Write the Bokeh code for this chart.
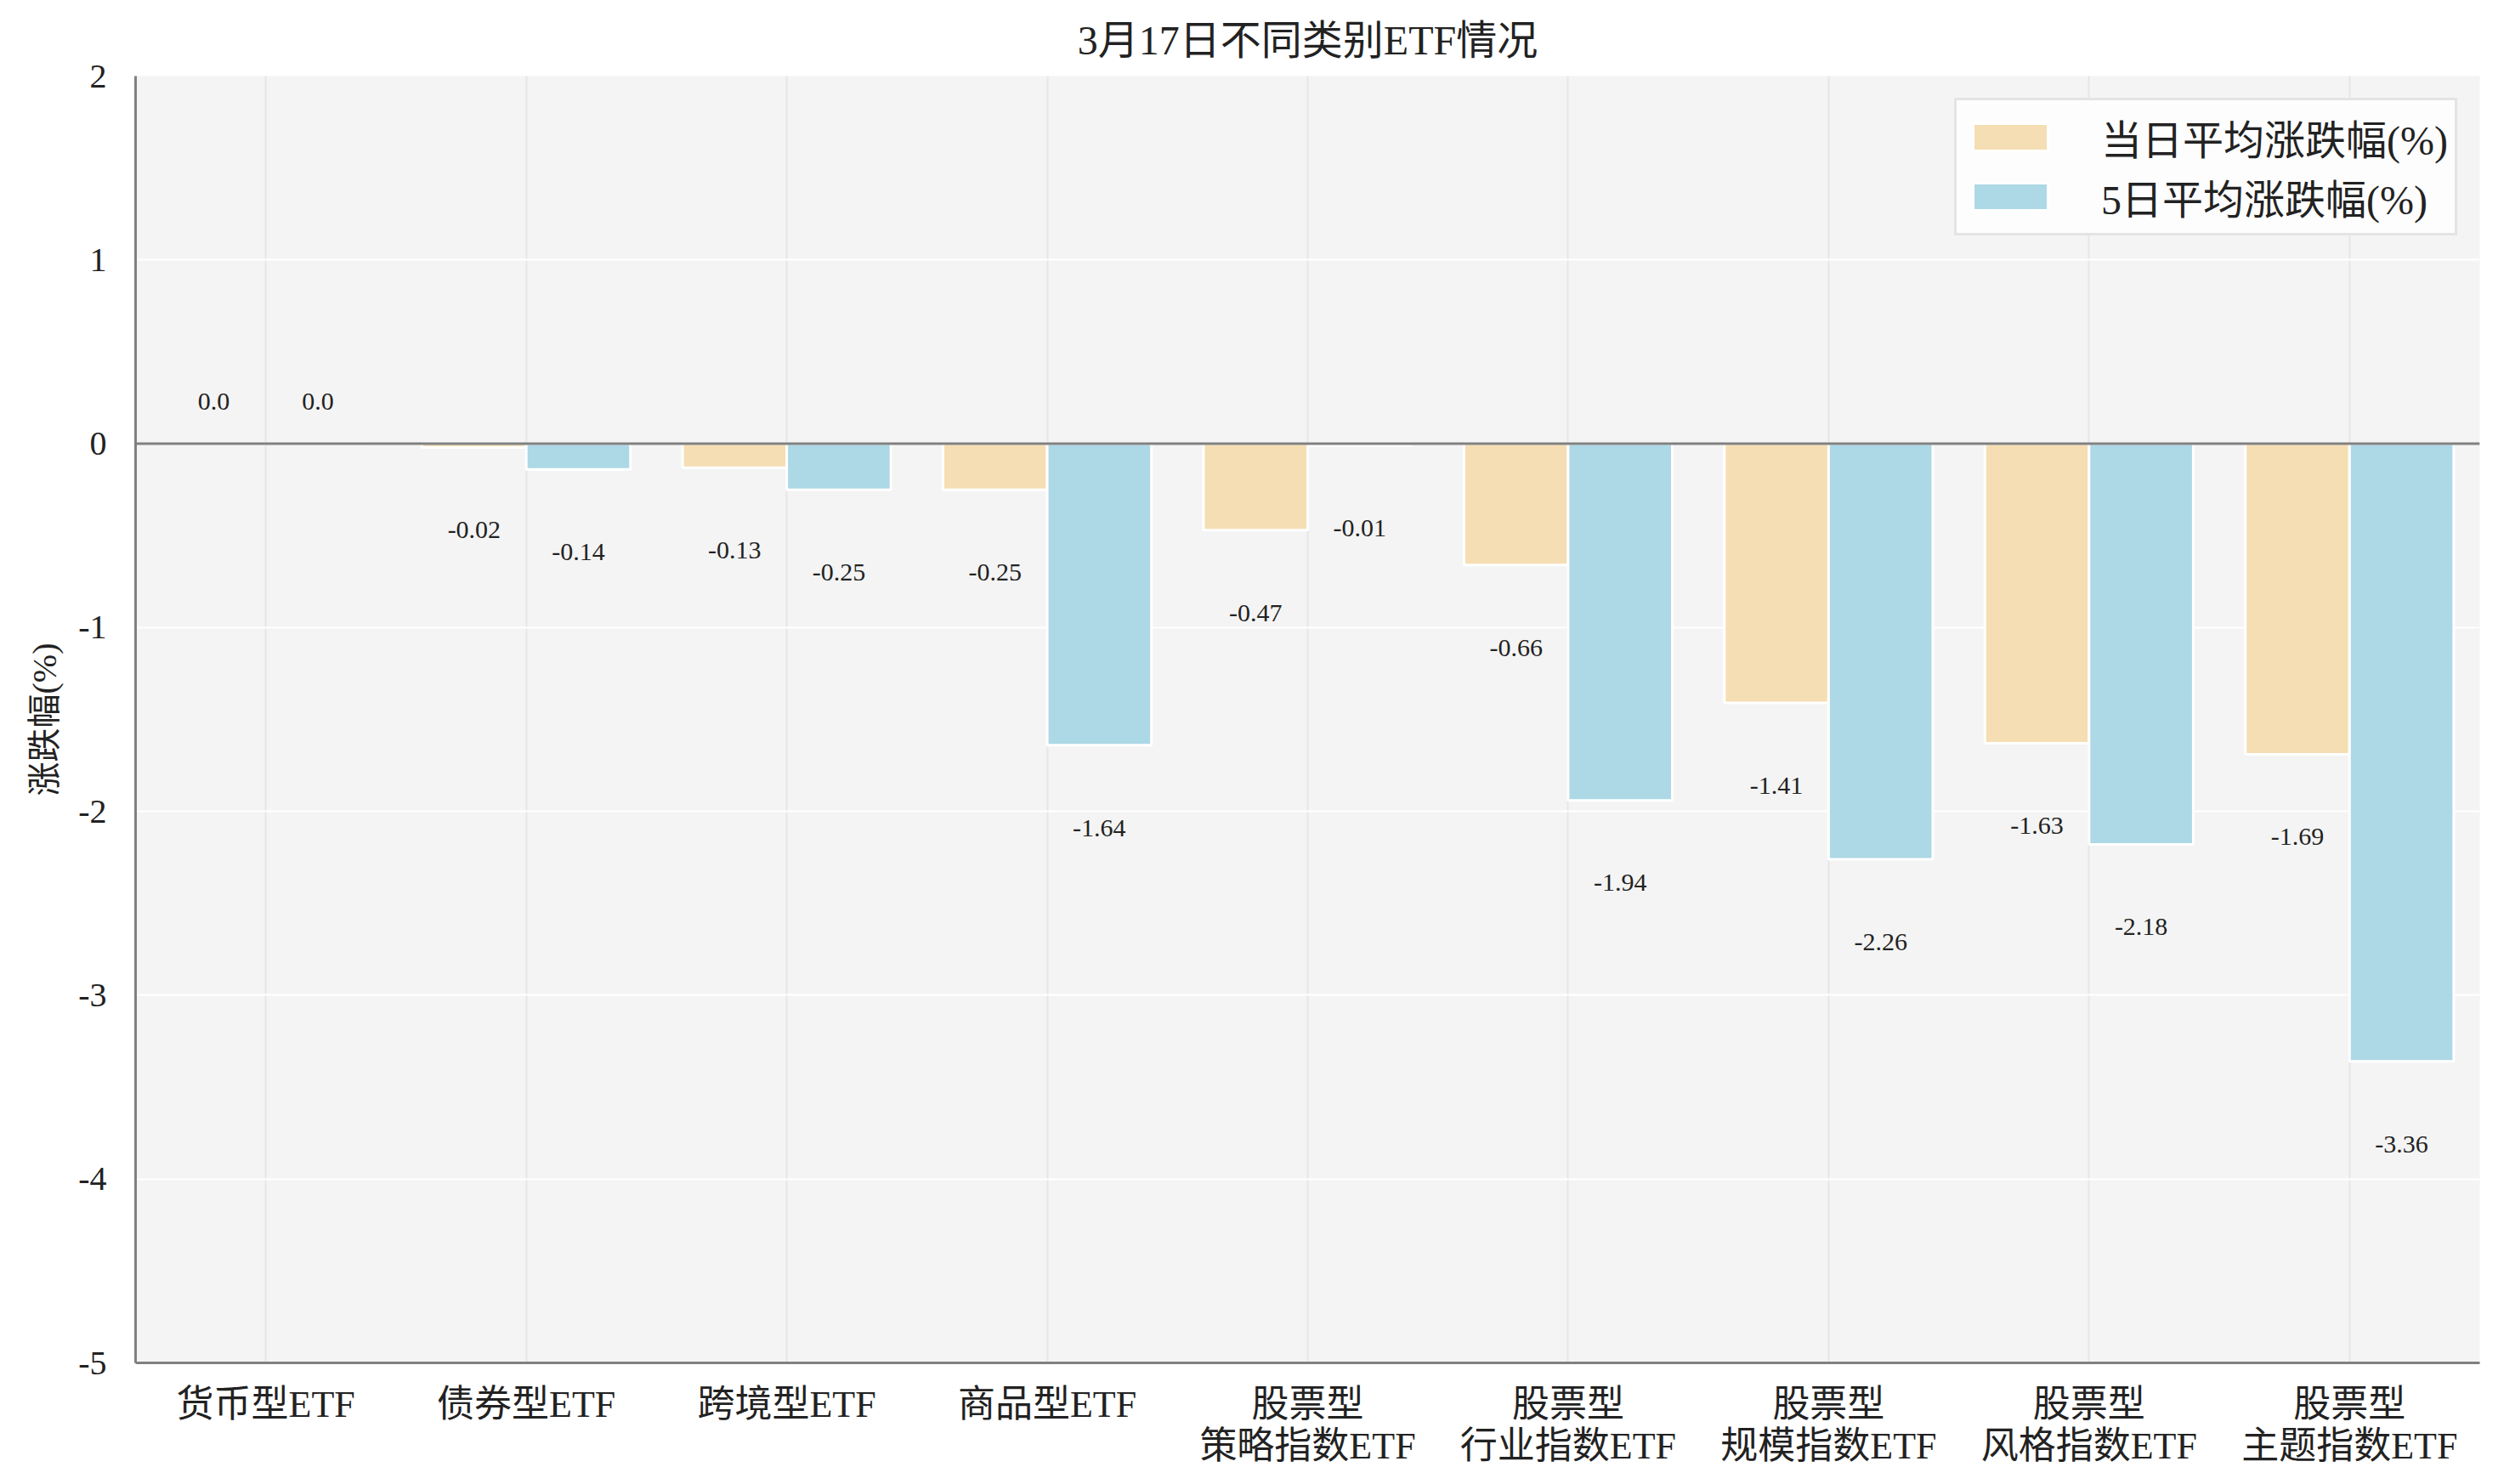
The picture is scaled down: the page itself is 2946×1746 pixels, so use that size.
import numpy as np
from bokeh.plotting import figure
from bokeh.models import ColumnDataSource, FixedTicker, Span, Legend, LegendItem
from bokeh.core.properties import value
from bokeh.embed import file_html
from bokeh.resources import INLINE

# ---- data ----
categories = ["货币型ETF", "债券型ETF", "跨境型ETF", "商品型ETF",
              "股票型\n策略指数ETF", "股票型\n行业指数ETF", "股票型\n规模指数ETF",
              "股票型\n风格指数ETF", "股票型\n主题指数ETF"]
day_change = [0.0, -0.02, -0.13, -0.25, -0.47, -0.66, -1.41, -1.63, -1.69]
week_change = [0.0, -0.14, -0.25, -1.64, -0.01, -1.94, -2.26, -2.18, -3.36]
series_names = ["当日平均涨跌幅(%)", "5日平均涨跌幅(%)"]
y_ticks = [-5, -4, -3, -2, -1, 0, 1, 2]
y_tick_labels = ["-5", "-4", "-3", "-2", "-1", "0", "1", "2"]

FONT = "'Liberation Serif', 'Noto Sans CJK SC', serif"
DAY_COLOR = "#f5deb3"
WEEK_COLOR = "#add8e6"

n = len(categories)
centers = np.arange(n) + 0.5
bar_w = 0.4

def fmt(v):
    return "0.0" if v == 0 else f"{v:.2f}"

def label_y(v):
    return v + 0.23 if v >= 0 else v - 0.45

src_day = ColumnDataSource(dict(x=centers - bar_w / 2, top=day_change,
                                ly=[label_y(v) for v in day_change],
                                lt=[fmt(v) for v in day_change]))
src_week = ColumnDataSource(dict(x=centers + bar_w / 2, top=week_change,
                                 ly=[label_y(v) for v in week_change],
                                 lt=[fmt(v) for v in week_change]))

p = figure(width=2930, height=1730, x_range=(0, n), y_range=(-5, 2),
           output_backend="svg", toolbar_location=None,
           min_border_left=159, min_border_right=13, min_border_top=89, min_border_bottom=127)

p.background_fill_color = "#f4f4f4"
p.border_fill_color = "white"
p.outline_line_color = None

# grids
xt = FixedTicker(ticks=list(centers))
p.xgrid.ticker = xt
p.xgrid.grid_line_color = "#e6e6e6"
p.xgrid.grid_line_width = 2
p.yaxis.ticker = FixedTicker(ticks=y_ticks)
p.ygrid.ticker = FixedTicker(ticks=y_ticks)
p.ygrid.grid_line_color = "white"
p.ygrid.grid_line_width = 2

# bars
r1 = p.vbar(x="x", top="top", bottom=0, width=bar_w, source=src_day,
            fill_color=DAY_COLOR, line_color="white", line_width=3)
r2 = p.vbar(x="x", top="top", bottom=0, width=bar_w, source=src_week,
            fill_color=WEEK_COLOR, line_color="white", line_width=3)

# zero line
p.add_layout(Span(location=0, dimension="width", line_color="#808080", line_width=3))

# value labels
for src in (src_day, src_week):
    p.text(x="x", y="ly", text="lt", source=src, text_align="center",
           text_baseline="middle", text_font=value(FONT), text_font_size="30px",
           text_color="#222222")

# axes
p.xaxis.ticker = xt
p.xaxis.major_label_overrides = {float(c): lab for c, lab in zip(centers, categories)}
p.yaxis.major_label_overrides = {t: lab for t, lab in zip(y_ticks, y_tick_labels)}
for ax in (p.xaxis, p.yaxis):
    ax.axis_line_color = "#808080"
    ax.axis_line_width = 3
    ax.major_tick_line_color = None
    ax.minor_tick_line_color = None
    ax.major_label_text_font = FONT
    ax.major_label_text_color = "#222222"
p.xaxis.major_label_text_font_size = "44px"
p.xaxis.major_label_text_line_height = 1.0
p.yaxis.major_label_text_font_size = "40px"
p.xaxis.major_label_standoff = 18
p.yaxis.major_label_standoff = 28
p.yaxis.axis_label = "涨跌幅(%)"
p.yaxis.axis_label_text_font = FONT
p.yaxis.axis_label_text_font_size = "40px"
p.yaxis.axis_label_text_font_style = "normal"
p.yaxis.axis_label_text_color = "#222222"
p.yaxis.axis_label_standoff = 14

# title
p.title.text = "3月17日不同类别ETF情况"
p.title.align = "center"
p.title.text_font = FONT
p.title.text_font_size = "48px"
p.title.text_font_style = "normal"
p.title.text_color = "#222222"
p.title.standoff = 31

# legend
legend = Legend(items=[LegendItem(label=series_names[0], renderers=[r1]),
                       LegendItem(label=series_names[1], renderers=[r2])],
                location="top_right")
legend.label_text_font = FONT
legend.label_text_font_size = "48px"
legend.label_text_color = "#222222"
legend.glyph_width = 110
legend.glyph_height = 40
legend.label_height = 40
legend.spacing = 0
legend.padding = 8
legend.margin = 26
legend.label_standoff = 52
legend.border_line_color = "#cccccc"
legend.border_line_width = 3
legend.background_fill_color = "#fdfdfd"
legend.background_fill_alpha = 1.0
p.add_layout(legend)

open("out.html", "w").write(file_html(p, INLINE))
